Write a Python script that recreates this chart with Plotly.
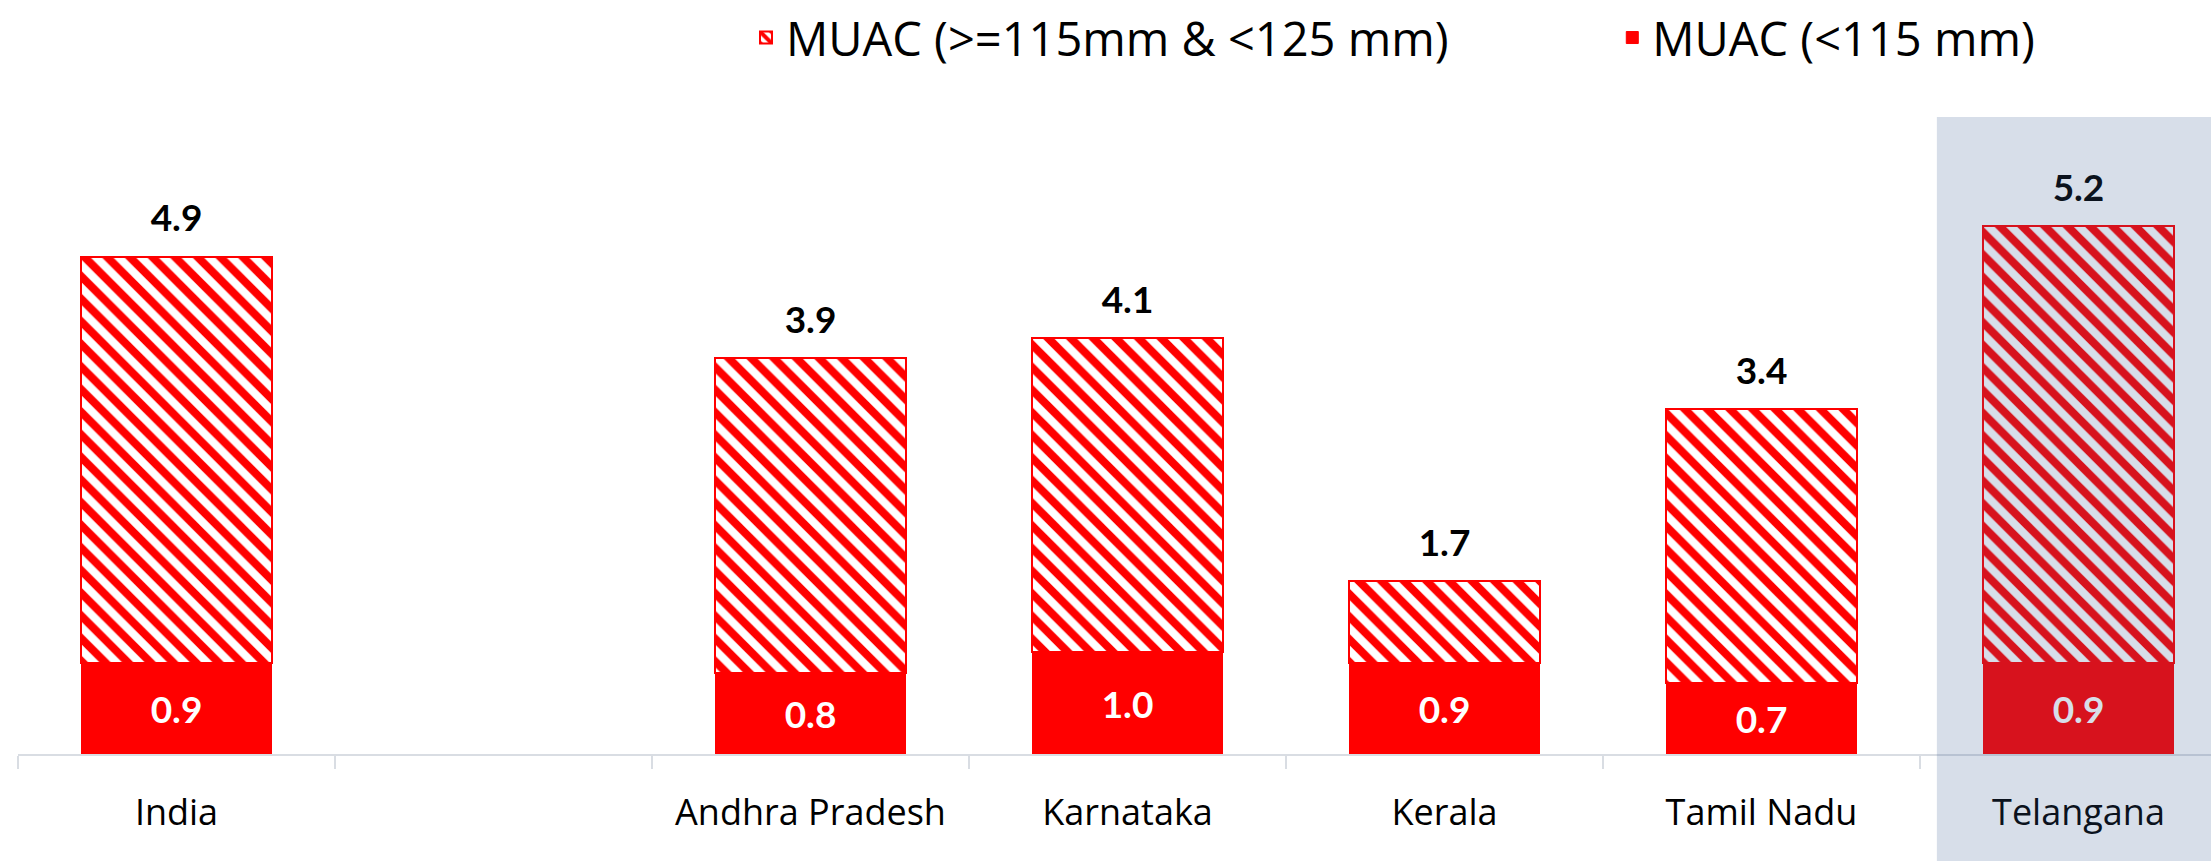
import plotly.graph_objects as go

categories = ["India", " ", "Andhra Pradesh", "Karnataka", "Kerala", "Tamil Nadu", "Telangana"]
muac_below_115 = [0.9, None, 0.8, 1.0, 0.9, 0.7, 0.9]
muac_115_125 = [4.0, None, 3.1, 3.1, 0.8, 2.7, 4.3]
series_names = ["MUAC (>=115mm & <125 mm)", "MUAC (<115 mm)"]

totals = [None if a is None else round(a + b, 1) for a, b in zip(muac_below_115, muac_115_125)]
total_labels = ["" if t is None else f"{t:.1f}" for t in totals]
bottom_labels = ["" if v is None else f"{v:.1f}" for v in muac_below_115]

LABEL_FONT = "Lato"
AXIS_FONT = "Open Sans"
RED = "#ff0000"
LABEL_GAP = 0.34
PAD = "\u00a0" * 13

fig = go.Figure()
fig.add_trace(go.Bar(
    x=categories, y=muac_below_115, name=series_names[1], legendrank=2,
    marker=dict(color=RED, line=dict(color=RED, width=1)),
    text=bottom_labels, textposition="inside", insidetextanchor="middle",
    textangle=0, textfont=dict(family=LABEL_FONT, size=37, color="white", weight="bold"),
    width=0.6,
))
fig.add_trace(go.Bar(
    x=categories, y=muac_115_125, name=series_names[0] + PAD, legendrank=1,
    marker=dict(color="white", line=dict(color=RED, width=2),
                pattern=dict(shape="\\", fgcolor=RED, bgcolor="white", fgopacity=1,
                             fillmode="replace", size=16, solidity=0.5)),
    width=0.6,
))
fig.add_trace(go.Scatter(
    x=categories, y=[None if t is None else t + LABEL_GAP for t in totals],
    mode="text", text=total_labels, textposition="middle center",
    textfont=dict(family=LABEL_FONT, size=37, color="black", weight="bold"),
    showlegend=False, hoverinfo="skip",
))

fig.add_shape(type="rect", xref="paper", yref="paper", x0=0.875, x1=1.0, y0=-0.17, y1=0.974,
              fillcolor="rgb(54,88,147)", opacity=0.2, line=dict(width=0), layer="above")

fig.update_layout(
    width=2211, height=861,
    margin=dict(l=18, r=0, t=100, b=107, autoexpand=False),
    barmode="stack", bargap=0.4,
    plot_bgcolor="white", paper_bgcolor="white",
    font=dict(family=AXIS_FONT, color="black"),
    showlegend=True,
    legend=dict(orientation="h", xref="container", yref="container",
                x=0.3374, xanchor="left", y=0.9559, yanchor="middle",
                font=dict(family=AXIS_FONT, size=47, color="black"), traceorder="normal"),
    xaxis=dict(range=[-0.5, 6.418], showline=True, linecolor="#d9dde3", linewidth=2,
               ticks="outside", tickson="boundaries", ticklen=13, tickcolor="#d9dde3", tickwidth=2,
               tickfont=dict(family=AXIS_FONT, size=36, color="black"), ticklabelstandoff=26,
               showgrid=False, zeroline=False, fixedrange=True, automargin=False),
    yaxis=dict(range=[0, 6.443], visible=False, showgrid=False, zeroline=False, automargin=False,
               fixedrange=True),
)

fig.write_html("out.html", config={"displayModeBar": False},
               post_script="document.body.style.margin='0';document.body.style.overflow='hidden';")
